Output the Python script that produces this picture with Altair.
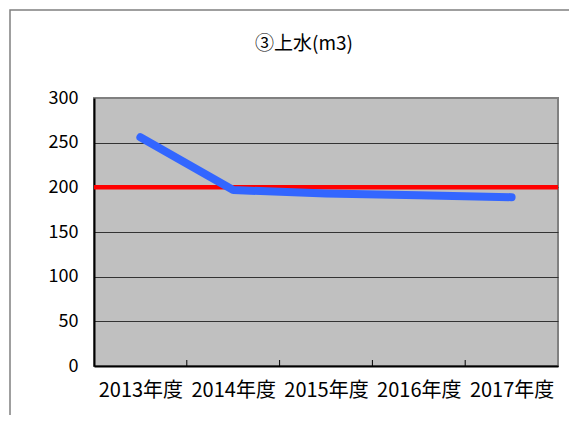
import altair as alt
import pandas as pd

title_text = ["③上水(m3)"]
years = ["2013年度", "2014年度", "2015年度", "2016年度", "2017年度"]
values = [256, 197, 193, 191, 189]
target = [200]
y_ticks = [0, 50, 100, 150, 200, 250, 300]
boundaries = [1, 2, 3, 4]

W, H = 464, 268
FONT = "Noto Sans CJK JP"

df = pd.DataFrame({"pos": [i + 0.5 for i in range(len(years))], "year": years, "value": values})
label_expr = "[" + ",".join("'%s'" % y for y in years) + "][floor(datum.value)]"

xscale = alt.Scale(domain=[0, 5], nice=False, zero=False)
yscale = alt.Scale(domain=[0, 300], nice=False)

frame = alt.Chart(pd.DataFrame({"a": [0]})).mark_rect(
    fill=None, stroke="#808080", strokeWidth=1.5
).encode(
    x=alt.value(-84), x2=alt.value(W + 60), y=alt.value(-88), y2=alt.value(H + 80)
)

title = alt.Chart(pd.DataFrame({"t": title_text})).mark_text(
    font=FONT, fontSize=19, color="#000", align="center", baseline="middle"
).encode(text="t:N", x=alt.value(210), y=alt.value(-54))

base = alt.Chart(df)

line = base.mark_line(color="#3366ff", strokeWidth=8, strokeCap="round", strokeJoin="round").encode(
    x=alt.X("pos:Q", scale=xscale, axis=alt.Axis(
        values=[i + 0.5 for i in range(len(years))], labelExpr=label_expr, title=None,
        ticks=False, grid=False, labelFontSize=20, labelFont=FONT, labelColor="#000",
        labelPadding=14, domainColor="#000", domainWidth=2)),
    y=alt.Y("value:Q", scale=yscale, axis=alt.Axis(
        values=y_ticks, title=None, ticks=False, grid=True,
        gridColor=alt.expr("datum.value == 300 ? '#808080' : '#333333'"), gridWidth=1,
        labelFontSize=18, labelFont=FONT, labelColor="#000", labelPadding=16,
        domainColor="#000", domainWidth=2)),
)

red = alt.Chart(pd.DataFrame({"t": target})).mark_rule(color="#ff0000", strokeWidth=4.5).encode(
    y=alt.Y("t:Q", scale=yscale), x=alt.value(0), x2=alt.value(W)
)

ticks = alt.Chart(pd.DataFrame({"b": boundaries})).mark_rule(color="#000", strokeWidth=1).encode(
    x=alt.X("b:Q", scale=xscale), y=alt.value(H), y2=alt.value(H - 6)
)

chart = alt.layer(frame, title, ticks, red, line).properties(
    width=W, height=H,
    autosize=alt.AutoSizeParams(type="none"),
    padding={"left": 86, "top": 90, "right": 11, "bottom": 49},
    background="white",
).configure_view(
    fill="#c0c0c0", stroke="#808080", strokeWidth=2
)

chart.save("out.html", embed_options={"renderer": "svg", "actions": False})
